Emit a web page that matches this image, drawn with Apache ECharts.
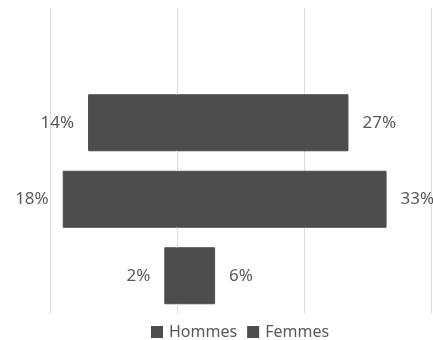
<!DOCTYPE html>
<html>
<head>
<meta charset="utf-8">
<script src="https://cdn.jsdelivr.net/npm/echarts@6/dist/echarts.min.js"></script>
<style>
html,body{margin:0;padding:0;background:#fff;}
#chart{width:433px;height:340px;}
</style>
</head>
<body>
<div id="chart"></div>
<script>
// Data (top row is an empty category in the original)
const categories = ['', 'Groupe 1', 'Groupe 2', 'Groupe 3'];
const hommes = [null, 14, 18, 2];
const femmes = [null, 27, 33, 6];
const xTicks = [-20, 0, 20, 40];

const chart = echarts.init(document.getElementById('chart'), null, {renderer: 'canvas'});
const labelStyle = {
  show: true,
  color: '#595959',
  fontFamily: 'Noto Sans',
  fontSize: 17,
  distance: 14
};
chart.setOption({
  animation: false,
  grid: {left: 50, right: 2, top: 8, bottom: 26, containLabel: false},
  xAxis: {
    type: 'value',
    z: 0,
    min: xTicks[0],
    max: xTicks[xTicks.length - 1],
    interval: 20,
    axisLabel: {show: false},
    axisLine: {show: false},
    axisTick: {show: false},
    splitLine: {show: true, lineStyle: {color: '#dedede', width: 1}}
  },
  yAxis: {
    type: 'category',
    z: 0,
    data: categories,
    inverse: true,
    axisLabel: {show: false},
    axisLine: {show: false},
    axisTick: {show: false},
    splitLine: {show: false}
  },
  legend: {
    top: 319,
    left: 146,
    itemWidth: 10,
    itemHeight: 10,
    itemGap: 10,
    icon: 'rect',
    textStyle: {color: '#595959', fontFamily: 'Noto Sans', fontSize: 16, padding: [0, 0, 0, 2]},
    data: ['Hommes', 'Femmes']
  },
  series: [
    {
      name: 'Hommes',
      type: 'bar',
      stack: 'total',
      z: 10,
      barWidth: 57,
      data: hommes.map(v => v == null ? null : -v),
      itemStyle: {color: '#4d4d4d', borderColor: '#4d4d4d', borderWidth: 1},
      label: Object.assign({}, labelStyle, {
        position: 'left',
        formatter: p => Math.abs(p.value) + '%'
      })
    },
    {
      name: 'Femmes',
      type: 'bar',
      stack: 'total',
      z: 10,
      barWidth: 57,
      data: femmes,
      itemStyle: {color: '#4d4d4d', borderColor: '#4d4d4d', borderWidth: 1},
      label: Object.assign({}, labelStyle, {
        position: 'right',
        formatter: p => p.value + '%'
      })
    }
  ]
});
</script>
</body>
</html>
